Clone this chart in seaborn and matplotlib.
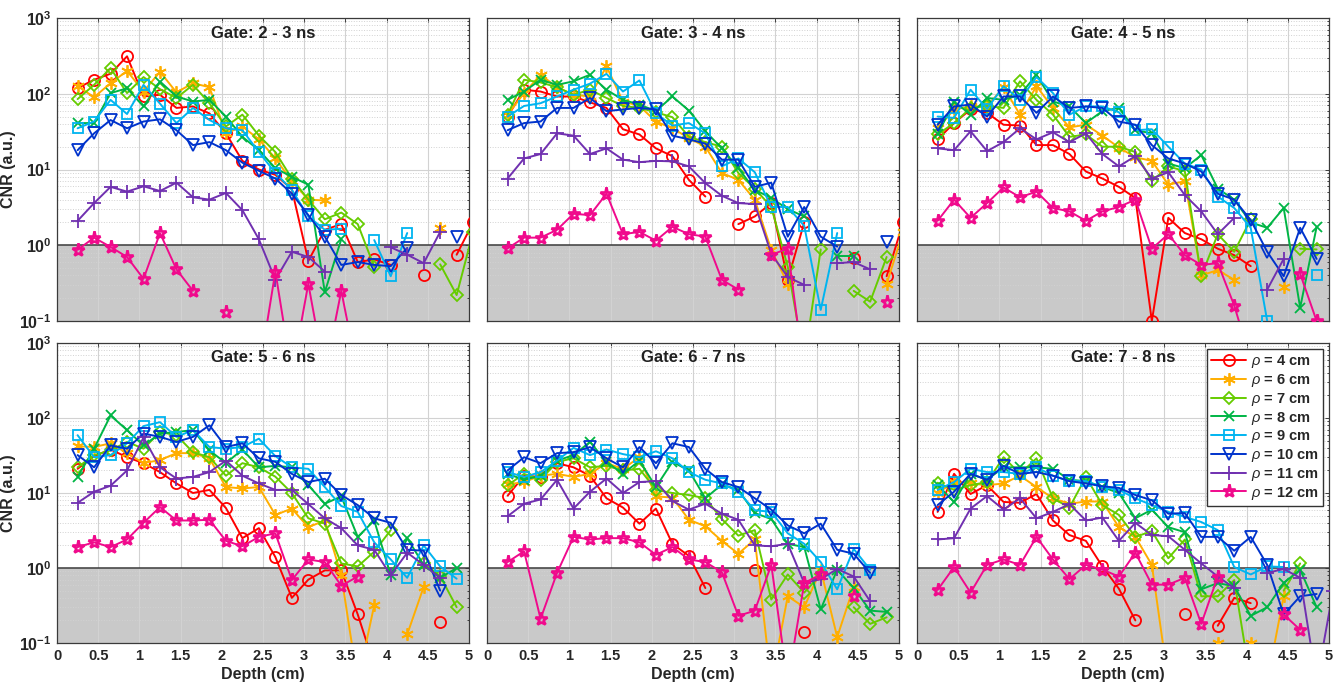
import numpy as np
import pandas as pd
import matplotlib
matplotlib.use("Agg")
import matplotlib.pyplot as plt
import seaborn as sns
from matplotlib.lines import Line2D
from matplotlib.ticker import LogLocator, NullFormatter

N = np.nan

depth = [0.25, 0.45, 0.65, 0.85, 1.05, 1.25, 1.45, 1.65, 1.85, 2.05, 2.25, 2.45,
         2.65, 2.85, 3.05, 3.25, 3.45, 3.65, 3.85, 4.05, 4.25, 4.45, 4.65, 4.85, 5.05]

gate_titles = ["Gate: 2 - 3 ns", "Gate: 3 - 4 ns", "Gate: 4 - 5 ns",
               "Gate: 5 - 6 ns", "Gate: 6 - 7 ns", "Gate: 7 - 8 ns"]
rho_cm = [4, 6, 7, 8, 9, 10, 11, 12]
legend_labels = [r"$\rho$ = %d cm" % r for r in rho_cm]

# ---- Gate 2-3 ns ----
g23_r4 = [119, 153, 184, 312, 92, 97, 65, 68, 55, 30, 13, 10, 8.5, 5.5, 0.62, 1.6, 1.9, 0.6, 0.65, 0.55, N, 0.4, N, 0.75, 2.0]
g23_r6 = [126, 90, 138, 200, 107, 195, 104, 138, 122, 30, 37, 25, 14, 7, 4, 3.9, N, N, N, N, N, N, 1.7, N, N]
g23_r7 = [85, 131, 218, 102, 166, 115, 88, 131, 75, 37, 53, 28, 17, 7.6, 4, 2.2, 2.7, 1.9, 0.52, N, N, N, 0.56, 0.22, 1.5]
g23_r8 = [41, 41, 102, 118, 68, 145, 92, 79, 83, 50, 27, 18, 10.4, 8, 6.3, 0.24, 1.2, N, N, N, N, N, N, N, N]
g23_r9 = [35, 43, 83, 54, 131, 74, 41, 65, 45, 35, 33, 17, 9, 5.4, 2.4, 1.6, 1.65, N, 1.17, 0.39, 1.45, N, N, N, N]
g23_r10 = [18, 30, 45, 35, 43, 46, 33, 21, 23, 18, 12.3, 9.6, 7.6, 4.8, 2.5, 1.3, 0.55, 0.6, 0.55, 0.53, 0.92, N, N, 1.3, N]
g23_r11 = [2.1, 3.6, 5.9, 5.1, 6.0, 5.2, 6.7, 4.3, 4.0, 4.9, 2.9, 1.2, 0.35, 0.82, 0.7, 0.45, N, N, N, 0.94, 0.75, 0.58, 1.5, N, N]
g23_r12 = [0.87, 1.26, 0.95, 0.7, 0.36, 1.45, 0.48, 0.25, N, 0.13, N, 0.02, 0.45, 0.02, 0.31, 0.02, 0.25, 0.02, N, N, N, N, N, N, N]

# ---- Gate 3-4 ns ----
g34_r4 = [50, 113, 107, 92, 92, 77, 65, 34, 29, 19, 15, 7.3, 4.4, N, 1.9, 2.4, 3.6, 0.35, 2.0, N, N, 0.68, N, 0.39, 2.0]
g34_r6 = [53, 102, 178, 122, 97, 92, 230, 79, 69, 43, 35, 26, 20, 9, 7.3, 4, 0.87, 0.31, N, N, N, N, N, 0.31, 1.5]
g34_r7 = [53, 153, 141, 122, 97, 113, 88, 69, 65, 57, 49, 27, 23, 20, 9, 5.6, 3.2, 0.52, 0.03, 0.88, N, 0.25, 0.18, 0.7, N]
g34_r8 = [83, 107, 153, 131, 146, 178, 113, 83, 72, 59, 92, 60, 32, 19, 10.4, 5.4, 4.2, 3.0, 2.4, N, 0.72, 0.72, N, N, N]
g34_r9 = [50, 69, 75, 92, 113, 136, 183, 107, 150, 55, 38, 41, 30, 11, 14, 9.2, 3.2, 3.2, 1.8, 0.14, 1.45, N, N, N, N]
g34_r10 = [33, 41, 43, 65, 65, 88, 59, 62, 65, 62, 28, 25, 22, 13.5, 13.5, 5.9, 6.7, 1.3, 3.2, 1.3, 0.96, N, N, 1.1, N]
g34_r11 = [7.6, 14, 16, 30, 28, 16, 19, 13.5, 12.5, 13, 12.8, 11, 6.6, 4.5, 3.6, 3.5, 0.77, 0.38, 0.3, N, 0.58, 0.6, 0.48, N, N]
g34_r12 = [0.91, 1.26, 1.26, 1.6, 2.6, 2.5, 4.8, 1.4, 1.5, 1.15, 1.75, 1.4, 1.3, 0.35, 0.26, N, 0.75, 0.9, 0.02, N, N, N, N, 0.18, N]

# ---- Gate 4-5 ns ----
g45_r4 = [25, 41, 62, 56, 39, 38, 21, 21, 16, 9.4, 7.6, 5.9, 4.2, 0.1, 2.3, 1.45, 1.2, 0.9, 0.74, 0.53, N, N, N, N, N]
g45_r6 = [35, 62, 68, 68, 122, 53, 126, 65, 36, 39, 28, 19.5, 14.5, 13, 6.3, 7, 0.4, 0.47, 0.35, N, N, 0.28, N, N, N]
g45_r7 = [29, 41, 65, 69, 65, 146, 83, 53, 27, 29, 20, 20, 17, 7, 11, 9.5, 0.39, 1.4, 0.82, 2.2, N, N, 0.9, 0.88, N]
g45_r8 = [29, 79, 53, 88, 83, 97, 178, 79, 68, 41, 59, 65, 33, 30, 12, 10.4, 15.5, 5.6, 4, 2.0, 1.7, 3.1, 0.15, 1.75, N]
g45_r9 = [50, 48, 113, 63, 126, 83, 166, 102, 53, 68, 68, 57, 33, 34, 20, 12, 10, 4.4, 3.1, 1.7, 0.1, N, N, 0.4, N]
g45_r10 = [39, 68, 72, 50, 92, 92, 56, 92, 65, 68, 65, 43, 39, 21, 14, 12, 9.4, 4.8, 4.0, 2.15, 0.82, 0.39, 1.7, 0.66, N]
g45_r11 = [19, 18, 32, 17.5, 23, 35, 25, 31, 23, 30, 16, 11, 15, 7.6, 9.2, 4.6, 2.8, 1.4, 2.3, N, 0.26, 0.66, N, N, N]
g45_r12 = [2.1, 4, 2.3, 3.6, 5.8, 4.3, 5.1, 3.1, 2.8, 2.1, 2.8, 3.2, 4.0, 0.9, 1.4, 0.74, 0.55, 0.58, 0.16, 0.03, N, N, 0.42, 0.1, N]

# ---- Gate 5-6 ns ----
g56_r4 = [21, 31, 38, 30, 25, 19, 13.4, 10, 11, 6.3, 2.5, 3.4, 1.4, 0.4, 0.7, 0.93, 0.93, 0.24, 0.05, N, N, N, 0.19, N, N]
g56_r6 = [42, 41, 46, 34, 25, 27.5, 34, 34, 29, 12, 11.5, 12, 5.1, 6.2, 3.5, 4.3, 0.8, 0.03, 0.32, N, 0.13, 0.56, N, N, N]
g56_r7 = [22, 32, 37, 48, 39, 65, 59, 35, 30, 17, 25, 22, 16.5, 10, 4.6, 3.9, 1.15, 1.05, 1.65, 3.2, N, 1.15, 0.78, 0.3, N]
g56_r8 = [16.4, 39, 108, 69, 43, 62, 65, 69, 37, 25, 38, 22, 23, 22, 12.7, 7.2, 9, 2.6, 4.3, 0.8, 2.5, 1.1, 0.74, 1.0, N]
g56_r9 = [59, 30, 32, 46, 78, 88, 56, 69, 41, 39, 41, 53, 31, 22, 21, 12, 6.7, 5.6, 2.2, 1.3, 0.74, 2.0, 1.05, 0.72, N]
g56_r10 = [32, 22, 43, 39, 62, 56, 48, 56, 80, 41, 46, 29, 26, 18, 14, 15.5, 9.4, 6.9, 4.6, 4.0, 1.75, 1.7, 0.5, N, N]
g56_r11 = [7.4, 10.4, 12.5, 20, 55, 22, 15.6, 16.4, 19, 27, 17, 13.4, 11, 11, 7.1, 4.6, 3.4, 2.0, 1.75, 0.8, 1.6, 1.1, 0.74, N, N]
g56_r12 = [1.9, 2.2, 1.9, 2.4, 4.0, 6.5, 4.3, 4.3, 4.4, 2.3, 1.95, 2.6, 2.9, 0.69, 1.3, 1.2, 0.58, 0.77, N, N, N, N, N, N, N]

# ---- Gate 6-7 ns ----
g67_r4 = [9.2, 17, 16.4, 25, 22, 17, 8.5, 6.4, 3.9, 6.2, 2.1, 1.45, 0.54, N, N, 0.93, N, N, 0.14, N, N, N, N, N, N]
g67_r6 = [13, 14, 17, 18, 16.4, 18, 25, 21, 30, 9, 8.7, 4.4, 3.6, 2.3, 1.55, 2.4, 0.03, 0.42, 0.3, 0.95, 0.12, 0.56, N, N, N]
g67_r7 = [12.7, 18, 15, 26, 29, 22, 23, 20, 21, 11, 10, 9.4, 8.5, 4.5, 2.7, 3.2, 0.38, 0.82, 0.47, 0.82, N, 0.3, 0.18, 0.22, N]
g67_r8 = [18, 15, 17, 27, 32, 48, 26, 18, 27, 12, 26, 20, 8.5, 13, 11, 5.4, 4.5, 2.1, 1.9, 0.28, 0.95, 0.54, 0.27, 0.26, N]
g67_r9 = [19, 16.4, 19, 27, 40, 32, 38, 33, 30, 36, 29, 19, 15, 13.4, 10.4, 5.9, 5.6, 2.9, 2.1, 1.2, 0.52, 1.8, 0.95, N, N]
g67_r10 = [20, 30, 25, 34, 35, 41, 29, 22, 41, 25, 46, 41, 21, 14, 12, 8.5, 6, 3.7, 2.9, 3.9, 1.75, 1.55, 0.86, N, N]
g67_r11 = [4.9, 7.2, 8.2, 15, 6.2, 10.4, 15.6, 10, 14, 14.4, 7.8, 6.0, 7.2, 5.3, 4.4, 2.0, 1.95, 2.1, 0.63, 0.71, 0.97, 0.77, 0.36, N, N]
g67_r12 = [1.2, 1.67, 0.21, 0.86, 2.6, 2.4, 2.5, 2.5, 2.2, 1.5, 1.9, 1.3, 1.2, 0.88, 0.23, 0.27, 1.1, 0.03, 0.63, 0.82, N, 0.42, N, N, N]

# ---- Gate 7-8 ns ----
g78_r4 = [5.6, 18, 9.7, 12.7, 7.6, 7.4, 9.7, 4.3, 2.75, 2.3, 1.05, 0.53, 0.2, N, N, 0.24, N, 0.17, 0.4, 0.34, N, N, N, N, N]
g78_r6 = [10, 14, 13.4, 12.7, 13.4, 17, 12, 8.5, 7.2, 7.7, 7.7, 3.5, 2.6, 1.1, 0.03, N, N, 0.1, N, 0.1, 0.03, 0.42, N, N, N]
g78_r7 = [13.7, 11, 12.7, 14, 30, 18, 29, 8.5, 6.4, 16.4, 6.9, 5.1, 2.6, 3.1, 1.35, 2.4, 0.42, 0.42, 0.69, 0.03, N, 0.5, 1.15, N, N]
g78_r8 = [12.7, 7.6, 18, 15, 22, 22, 22, 21, 15, 14.4, 12, 10, 4.6, 6, 3.5, 3.0, 0.52, 0.63, 0.57, 0.23, 0.3, 0.63, 0.95, 0.3, N]
g78_r9 = [11, 14, 21, 19, 19, 18, 22, 17, 14.4, 14.4, 12, 11, 8.5, 6.9, 5.6, 4.8, 4.1, 3.2, 1.03, 0.82, 1.05, 1.03, N, N, N]
g78_r10 = [6.9, 10.4, 18, 15, 23, 18, 19, 17, 14.4, 13.4, 12.3, 11.7, 9.4, 8, 5.3, 5.4, 2.6, 2.6, 1.7, 2.6, 1.1, 0.24, 0.42, 0.45, N]
g78_r11 = [2.4, 2.5, 6.2, 9.1, 6, 8.5, 4.6, 5.6, 7.1, 4.3, 4.7, 2.3, 4.0, 2.75, 2.65, 1.75, 1.15, 0.77, 0.54, N, 0.86, 0.97, 0.74, 0.03, 0.5]
g78_r12 = [0.51, 1.03, 0.47, 1.1, 1.3, 1.1, 2.6, 1.3, 0.71, 1.1, 0.95, 0.77, 1.6, 0.6, 0.6, 0.74, 0.18, 0.77, N, N, N, 0.24, 0.15, N, N]

gate_series = [
    [g23_r4, g23_r6, g23_r7, g23_r8, g23_r9, g23_r10, g23_r11, g23_r12],
    [g34_r4, g34_r6, g34_r7, g34_r8, g34_r9, g34_r10, g34_r11, g34_r12],
    [g45_r4, g45_r6, g45_r7, g45_r8, g45_r9, g45_r10, g45_r11, g45_r12],
    [g56_r4, g56_r6, g56_r7, g56_r8, g56_r9, g56_r10, g56_r11, g56_r12],
    [g67_r4, g67_r6, g67_r7, g67_r8, g67_r9, g67_r10, g67_r11, g67_r12],
    [g78_r4, g78_r6, g78_r7, g78_r8, g78_r9, g78_r10, g78_r11, g78_r12],
]

# ---- styles ----
colors = ["#ff0000", "#ffae00", "#66cc00", "#00b545", "#00b4f0", "#0033cc", "#7030b0", "#f00a8c"]
markers = ["o", (6, 2, 0), "D", "x", "s", "v", "+", "*"]
msizes = [8, 9, 6.5, 7.5, 6.5, 8.5, 10, 9.5]
mews = [1.3, 1.3, 1.3, 1.3, 1.3, 1.3, 1.3, 1.9]

# long-form table; a new segment starts after each missing value
rows = []
for gi, series in enumerate(gate_series):
    for si, vals in enumerate(series):
        seg = 0
        for d, v in zip(depth, vals):
            if np.isnan(v):
                seg += 1
                continue
            rows.append((gi, si, d, v, seg))
df = pd.DataFrame(rows, columns=["gate", "series", "depth", "cnr", "seg"])

sns.set_theme(style="white")
plt.rcParams["font.family"] = ["Liberation Sans", "DejaVu Sans"]
plt.rcParams["mathtext.fontset"] = "custom"
plt.rcParams["mathtext.rm"] = "Liberation Sans"
plt.rcParams["mathtext.bf"] = "Liberation Sans:bold"
plt.rcParams["mathtext.it"] = "Liberation Sans:italic"

fig = plt.figure(figsize=(13.43, 6.87), dpi=100)
lefts = [57 / 1343, 487 / 1343, 917 / 1343]
w = 412 / 1343
row_specs = [(1 - 321 / 687, 303 / 687), (1 - 643 / 687, 300 / 687)]

xticks = [0, 0.5, 1, 1.5, 2, 2.5, 3, 3.5, 4, 4.5, 5]
xticklabels = ["0", "0.5", "1", "1.5", "2", "2.5", "3", "3.5", "4", "4.5", "5"]
yticks = [0.1, 1, 10, 100, 1000]
yticklabels = [r"$\mathbf{10^{-1}}$", r"$\mathbf{10^{0}}$", r"$\mathbf{10^{1}}$",
               r"$\mathbf{10^{2}}$", r"$\mathbf{10^{3}}$"]

axes = []
for gi in range(6):
    r, c = divmod(gi, 3)
    b, h = row_specs[r]
    ax = fig.add_axes([lefts[c], b, w, h])
    axes.append(ax)
    ax.axhspan(0.1, 1, facecolor="#c9c9c9", edgecolor="none", zorder=0.5)
    ax.axhline(1, color="#3a3a3a", lw=1.1, zorder=2)
    sub = df[df["gate"] == gi]
    for si in range(8):
        s = sub[sub["series"] == si]
        sns.lineplot(data=s, x="depth", y="cnr", units="seg", estimator=None,
                     sort=False, color=colors[si], marker=markers[si],
                     markersize=msizes[si], markeredgecolor=colors[si],
                     markerfacecolor="none", markeredgewidth=mews[si], linewidth=1.4,
                     legend=False, ax=ax, zorder=3)
    ax.set_yscale("log")
    ax.set_xlim(0, 5)
    ax.set_ylim(0.1, 1000)
    ax.set_xticks(xticks)
    ax.yaxis.set_minor_locator(LogLocator(base=10, subs=range(2, 10)))
    ax.yaxis.set_minor_formatter(NullFormatter())
    ax.set_yticks(yticks)
    ax.grid(True, which="major", color="#d2d2d2", lw=0.8)
    ax.grid(True, which="minor", axis="y", color="#d2d2d2", ls=":", lw=0.7)
    ax.tick_params(direction="in", top=True, right=True, which="both",
                   length=3, width=0.6, colors="#262626", labelsize=10.5, pad=4)
    ax.tick_params(which="minor", length=1.5)
    for sp in ax.spines.values():
        sp.set_color("#3a3a3a")
        sp.set_linewidth(0.9)
    if r == 1:
        ax.set_xticklabels(xticklabels, fontweight="bold")
        ax.set_xlabel("Depth (cm)", fontweight="bold", fontsize=11.5, labelpad=3)
    else:
        ax.set_xticklabels([])
        ax.set_xlabel("")
    if c == 0:
        ax.set_yticklabels(yticklabels, fontsize=11.5)
        ax.set_ylabel("CNR (a.u.)", fontweight="bold", fontsize=11.5, labelpad=2)
    else:
        ax.set_yticklabels([])
        ax.set_ylabel("")
    ax.text(0.5, 0.975, gate_titles[gi], transform=ax.transAxes, ha="center",
            va="top", fontweight="bold", fontsize=12, color="#202020", zorder=5)

handles = [Line2D([], [], color=colors[i], marker=markers[i], markersize=msizes[i],
                  markeredgecolor=colors[i], markerfacecolor="none",
                  markeredgewidth=mews[i], linewidth=1.4) for i in range(8)]
leg = axes[5].legend(handles, legend_labels, loc="upper right",
                     bbox_to_anchor=(0.993, 0.99), frameon=True, fancybox=False,
                     edgecolor="#333333", framealpha=1, handlelength=2.4,
                     handletextpad=0.3, labelspacing=0.12, borderpad=0.3,
                     borderaxespad=0.2, prop={"weight": "bold", "size": 10.5})
leg.get_frame().set_linewidth(1.0)
leg.set_zorder(10)

fig.savefig("out.png", dpi=100)
